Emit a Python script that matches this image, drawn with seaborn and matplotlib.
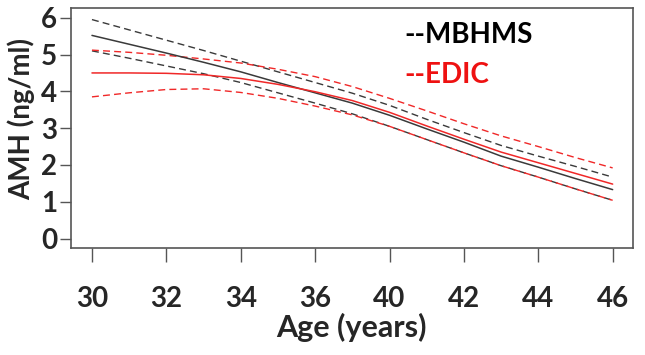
import numpy as np
import pandas as pd
import matplotlib
matplotlib.use("Agg")
import matplotlib.pyplot as plt
import seaborn as sns

# 나이 (x 위치는 눈금 기준, 38은 원본 축에 표시되지 않음)
ages = [30, 31, 32, 33, 34, 35, 36, 38, 40, 41, 42, 43, 44, 45, 46]
tick_labels = ["30", "32", "34", "36", "40", "42", "44", "46"]

# MBHMS (검정)
mbhms_mean = [5.52, 5.28, 5.04, 4.79, 4.53, 4.24, 3.96, 3.68, 3.35, 2.98, 2.62, 2.24, 1.94, 1.63, 1.33]
mbhms_upper = [5.95, 5.67, 5.39, 5.11, 4.82, 4.53, 4.24, 3.95, 3.62, 3.24, 2.88, 2.53, 2.24, 1.96, 1.67]
mbhms_lower = [5.10, 4.90, 4.69, 4.48, 4.24, 3.96, 3.68, 3.39, 3.05, 2.69, 2.33, 1.98, 1.67, 1.35, 1.04]

# EDIC (빨강)
edic_mean = [4.50, 4.50, 4.49, 4.45, 4.35, 4.19, 3.99, 3.75, 3.43, 3.06, 2.70, 2.35, 2.06, 1.77, 1.48]
edic_upper = [5.12, 5.06, 4.98, 4.88, 4.77, 4.60, 4.40, 4.13, 3.81, 3.47, 3.12, 2.79, 2.50, 2.20, 1.92]
edic_lower = [3.85, 3.96, 4.05, 4.07, 3.97, 3.81, 3.60, 3.36, 3.05, 2.69, 2.33, 1.98, 1.67, 1.35, 1.04]

sns.set_style("ticks")
plt.rcParams['font.family'] = ['Lato', 'DejaVu Sans']
plt.rcParams['font.weight'] = 'bold'

pos = np.arange(len(ages))
df = pd.DataFrame({
    "pos": pos,
    "mbhms_mean": mbhms_mean, "mbhms_upper": mbhms_upper, "mbhms_lower": mbhms_lower,
    "edic_mean": edic_mean, "edic_upper": edic_upper, "edic_lower": edic_lower,
})

fig = plt.figure(figsize=(6.45, 3.55), dpi=100)
ax = fig.add_axes([0.110, 0.301, 0.871, 0.676])

black = "#3a3a3a"
red = "#f02828"
dash = (0, (5, 3))

sns.lineplot(data=df, x="pos", y="mbhms_upper", ax=ax, color=black, lw=1.0, linestyle=dash)
sns.lineplot(data=df, x="pos", y="mbhms_lower", ax=ax, color=black, lw=1.0, linestyle=dash)
sns.lineplot(data=df, x="pos", y="edic_upper", ax=ax, color=red, lw=1.0, linestyle=dash)
sns.lineplot(data=df, x="pos", y="edic_lower", ax=ax, color=red, lw=1.0, linestyle=dash)
sns.lineplot(data=df, x="pos", y="mbhms_mean", ax=ax, color=black, lw=1.1)
sns.lineplot(data=df, x="pos", y="edic_mean", ax=ax, color=red, lw=1.1)

ax.set_xlim(-0.565, 14.54)
ax.set_ylim(-0.26, 6.26)
ax.set_xticks(pos[::2])
ax.set_xticklabels(tick_labels)
ax.set_yticks(range(7))
ax.tick_params(axis="x", length=10, width=1, color="#555555", labelsize=20, pad=17)
ax.tick_params(axis="y", length=8, width=1, color="#555555", labelsize=20, pad=2)
for s in ax.spines.values():
    s.set_color("#555555")
    s.set_linewidth(1.2)

ax.set_xlabel("Age (years)", fontsize=22, fontweight="bold", labelpad=1)
ax.set_ylabel("AMH (ng/ml)", fontsize=20, fontweight="bold")
ax.yaxis.set_label_coords(-0.064, 0.54)

ax.text(0.594, 0.89, "--MBHMS", transform=ax.transAxes, fontsize=20,
        fontweight="bold", color="black", va="center", ha="left")
ax.text(0.594, 0.72, "--EDIC", transform=ax.transAxes, fontsize=20,
        fontweight="bold", color="#ee1111", va="center", ha="left")

fig.savefig("out.png", dpi=100)
